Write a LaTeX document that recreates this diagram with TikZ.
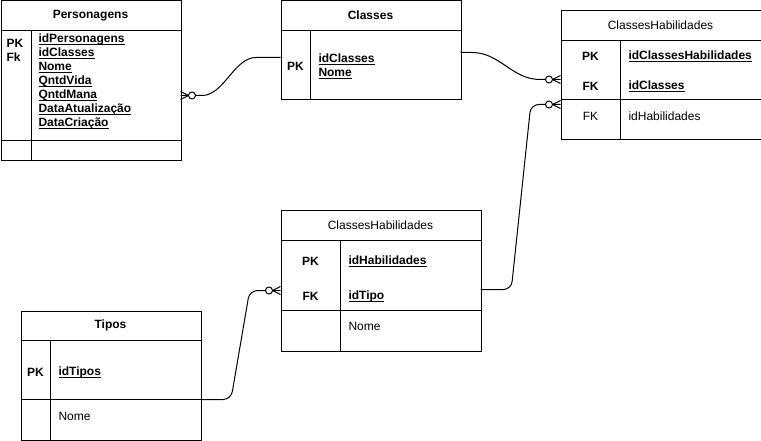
\documentclass[tikz,border=0pt]{standalone}
\usepackage{fontspec}
\setmainfont{Liberation Sans}

\newcommand\chave[1]{\underline{\raisebox{0pt}[\height][0pt]{#1}}}

\begin{document}
\begin{tikzpicture}[x=1pt, y=-1pt, line width=1pt,
    tabela/.style={draw, inner sep=0pt, anchor=north west},
    negrito/.style={font=\fontsize{12}{14}\selectfont\bfseries, inner sep=0pt},
    normal/.style={font=\fontsize{12}{14}\selectfont, inner sep=0pt},
    campo/.style={anchor=west, align=left},
    muitos/.pic={
        \draw (-8,0) -- (0,-4) (-8,0) -- (0,4);
        \draw[fill=white] (-11.5,0) circle (3.5);
    }]
    \useasboundingbox (0,0) rectangle (761,441);

    % Personagens
    \node[tabela, minimum width=180, minimum height=160] (pers) at (0.5,0.5) {};
    \draw (0.5,30.5) -- (180.5,30.5);
    \draw (0.5,140.5) -- (180.5,140.5);
    \draw (31.5,30.5) -- (31.5,160.5);
    \node[negrito] (persT) at (90.5,15.5) {Personagens};
    \node[negrito, campo] (persK) at (6,50) {PK\\Fk};
    \node[negrito, campo] (persC) at (38,81.5) {\chave{idPersonagens}\\\chave{idClasses}\\\chave{Nome}\\\chave{QntdVida}\\\chave{QntdMana}\\\chave{DataAtualização}\\\chave{DataCriação}};

    % Classes
    \node[tabela, minimum width=180, minimum height=99] (cls) at (280.5,0.5) {};
    \draw (280.5,30.5) -- (460.5,30.5);
    \draw (310.5,30.5) -- (310.5,99.5);
    \node[negrito] (clsT) at (370.5,15.5) {Classes};
    \node[negrito] (clsK) at (295.5,66.5) {PK};
    \node[negrito, campo] (clsC) at (318,66) {\chave{idClasses}\\\chave{Nome}};

    % ClassesHabilidades (direita)
    \node[tabela, minimum width=200, minimum height=129] (chA) at (560.5,10.5) {};
    \draw (560.5,40.5) -- (760.5,40.5);
    \draw (560.5,99.5) -- (760.5,99.5);
    \draw (620.5,40.5) -- (620.5,139.5);
    \node[normal] (chAT) at (660.5,25.5) {ClassesHabilidades};
    \node[negrito] (chAK1) at (590.5,56) {PK};
    \node[negrito] (chAK2) at (590.5,86) {FK};
    \node[normal] (chAK3) at (590.5,116) {FK};
    \node[negrito, campo] (chAC1) at (628,56) {\chave{idClassesHabilidades}};
    \node[negrito, campo] (chAC2) at (628,86) {\chave{idClasses}};
    \node[normal, campo] (chAC3) at (628,116) {idHabilidades};

    % ClassesHabilidades (meio)
    \node[tabela, minimum width=200, minimum height=140] (chB) at (280.5,210.5) {};
    \draw (280.5,240.5) -- (480.5,240.5);
    \draw (280.5,310.5) -- (480.5,310.5);
    \draw (340.5,240.5) -- (340.5,350.5);
    \node[normal] (chBT) at (380.5,225.5) {ClassesHabilidades};
    \node[negrito] (chBK1) at (310.5,261) {PK};
    \node[negrito] (chBK2) at (310.5,296) {FK};
    \node[negrito, campo] (chBC1) at (348,261) {\chave{idHabilidades}};
    \node[negrito, campo] (chBC2) at (348,296) {\chave{idTipo}};
    \node[normal, campo] (chBC3) at (348,326) {Nome};

    % Tipos
    \node[tabela, minimum width=180, minimum height=129] (tip) at (20.5,310.5) {};
    \draw (20.5,340.5) -- (200.5,340.5);
    \draw (20.5,399.5) -- (200.5,399.5);
    \draw (50.5,340.5) -- (50.5,439.5);
    \node[negrito] (tipT) at (110.5,325.5) {Tipos};
    \node[negrito] (tipK) at (35.5,372) {PK};
    \node[negrito, campo] (tipC1) at (58,372) {\chave{idTipos}};
    \node[normal, campo] (tipC2) at (58,416) {Nome};

    % pontas das ligacoes
    \coordinate (pers1) at (180.5,95.5);
    \coordinate (cls1) at (280.5,57.5);
    \coordinate (cls2) at (460.5,52.5);
    \coordinate (chA1) at (560.5,79.5);
    \coordinate (chA2) at (560.5,104.5);
    \coordinate (chB1) at (480.5,289.5);
    \coordinate (chB2) at (280.5,290.5);
    \coordinate (tip1) at (200.5,399.5);

    % ligacoes
    \draw (pers1) -- (202,95.5) .. controls (224,95.5) and (234,57.5) .. (256,57.5) -- (cls1);
    \draw (cls2) -- (472,52.5) .. controls (500,52.5) and (512,79.5) .. (540,79.5) -- (chA1);
    \draw[rounded corners=8] (chB1) -- (511.3,289.5) -- (530.8,104.5) -- (chA2);
    \draw[rounded corners=8] (tip1) -- (231,399.5) -- (249.6,290.5) -- (chB2);

    \pic[rotate=180] at (pers1) {muitos};
    \pic at (chA1) {muitos};
    \pic at (chA2) {muitos};
    \pic at (chB2) {muitos};
\end{tikzpicture}
\end{document}
